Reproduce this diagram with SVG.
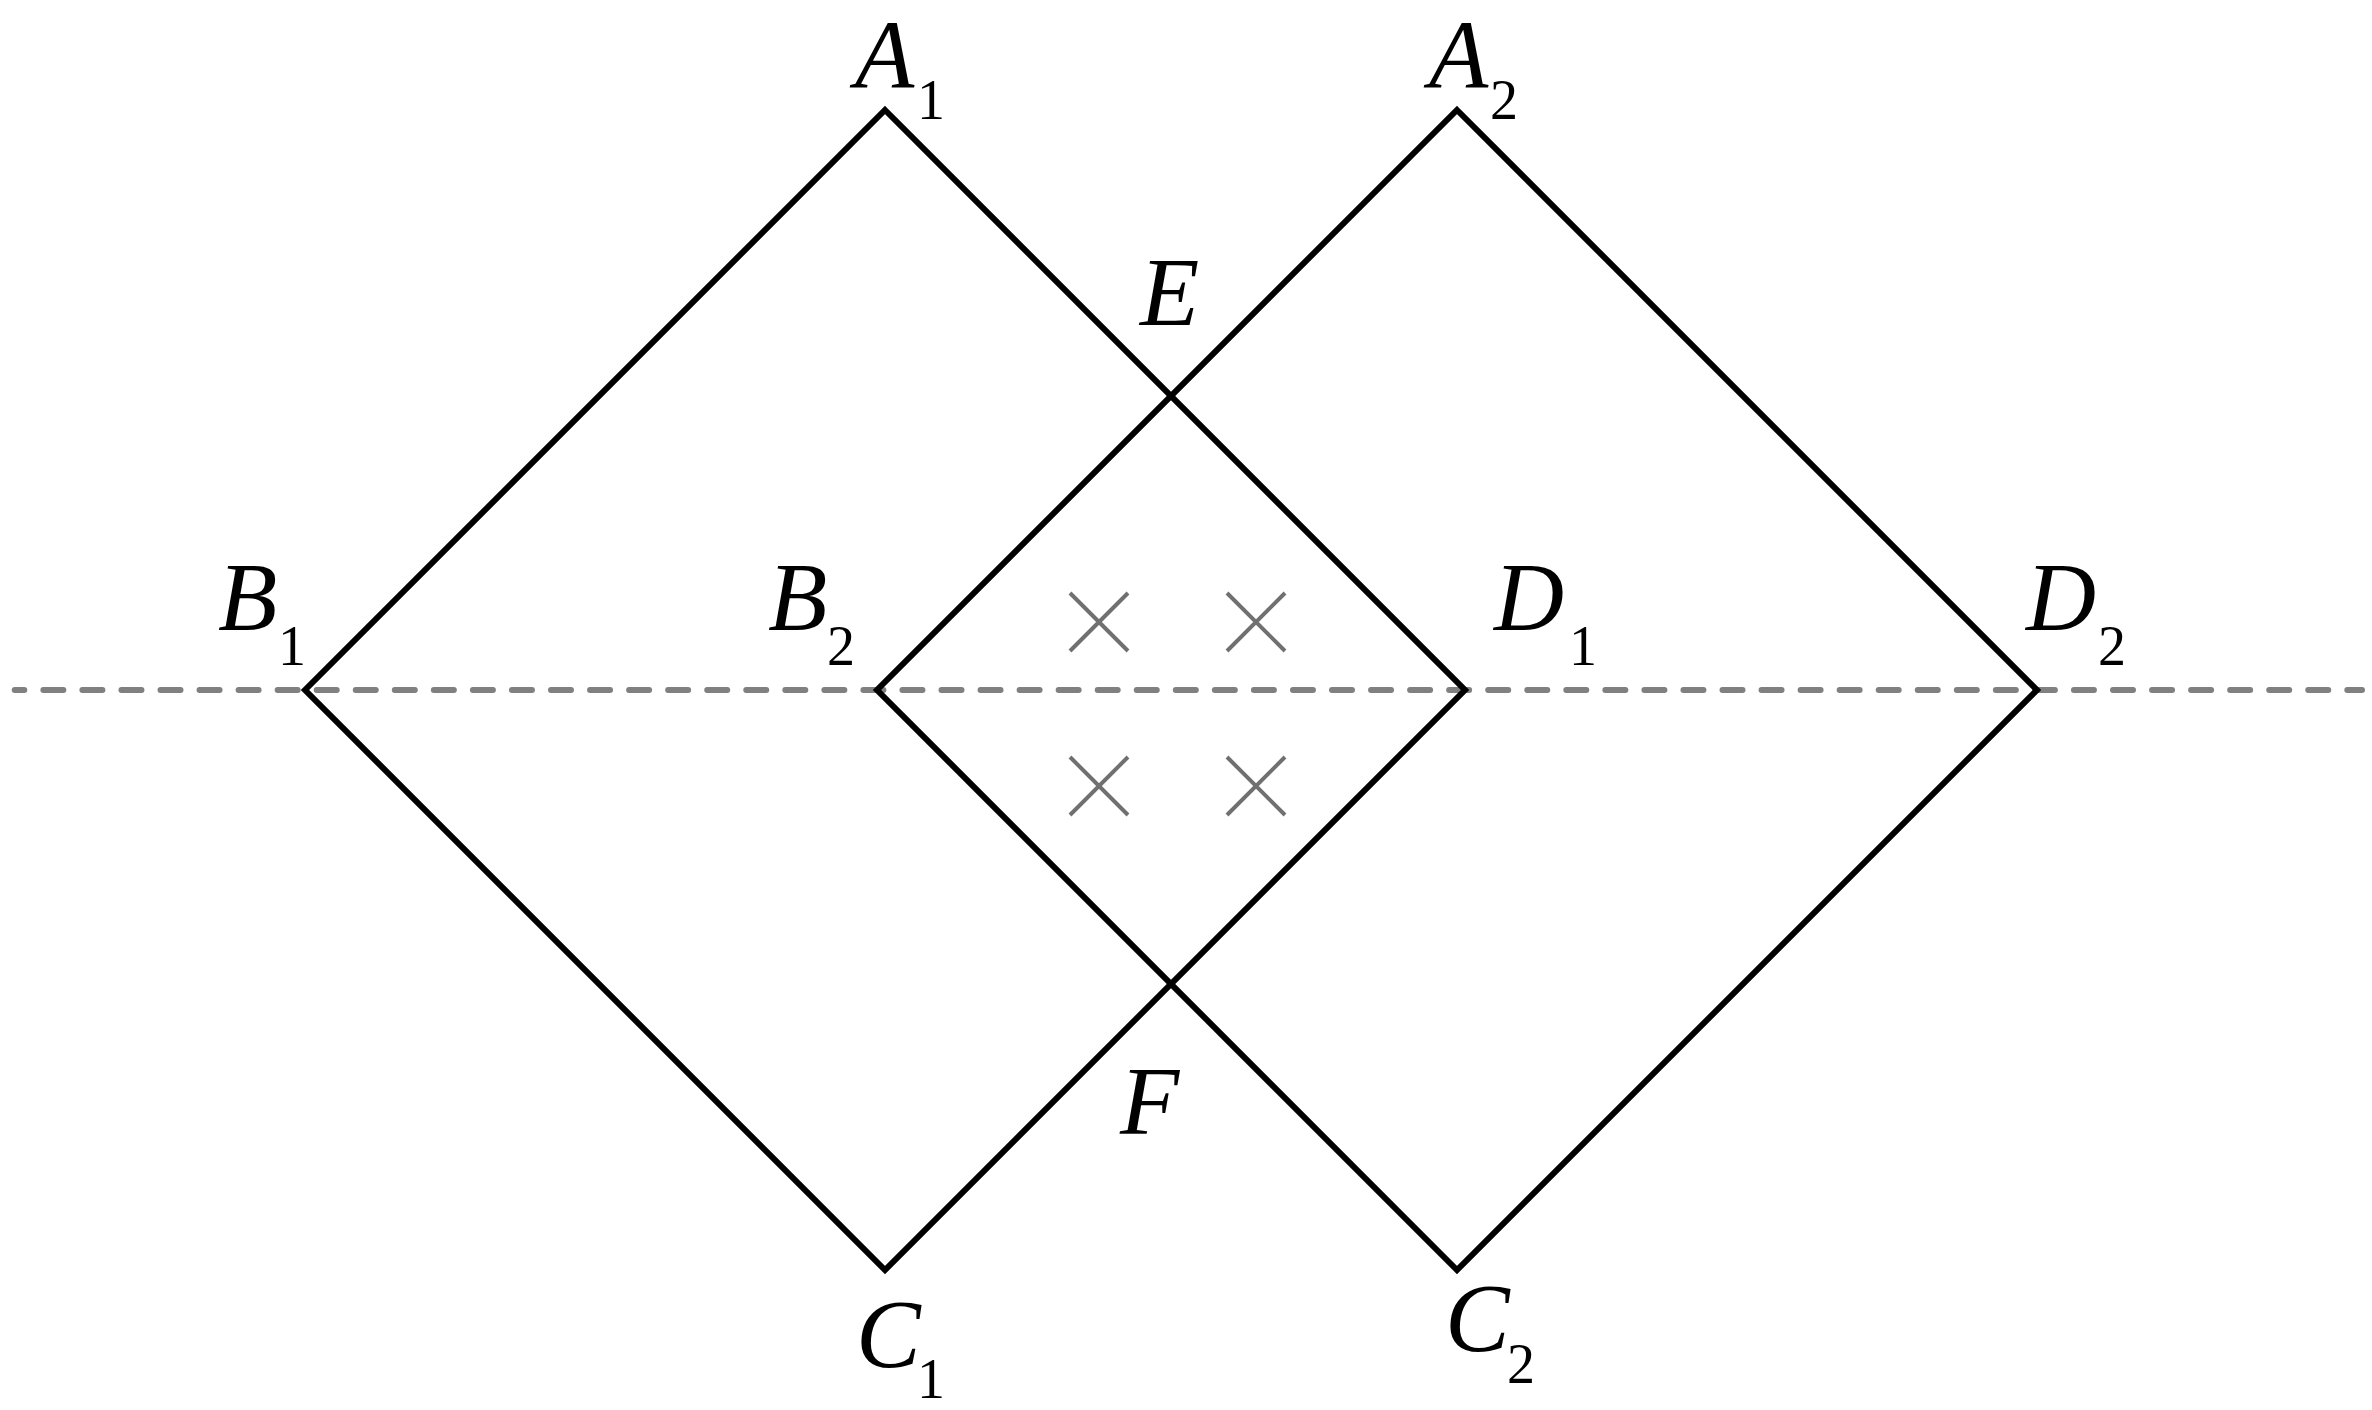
<svg xmlns="http://www.w3.org/2000/svg" width="2372" height="1410" viewBox="0 0 2372 1410">
<style>
.sq{fill:none;stroke:#000;stroke-width:6;stroke-linejoin:miter}
.axis{fill:none;stroke:#808080;stroke-width:6;stroke-linecap:round;stroke-dasharray:20 19.05;stroke-dashoffset:10.4}
.x{stroke:#707070;stroke-width:4}
text{font-family:'Liberation Serif',serif;fill:#000}
.lbl{font-size:97px;font-style:italic}
.sub{font-size:56px;font-style:normal}
</style>
<rect width="2372" height="1410" fill="#fff"/>
<g id="connectors">
<line class="axis" x1="14.7" y1="690" x2="2362" y2="690"/>
</g>
<g id="square1"><polygon class="sq" points="885,110 1465,690 885,1270 305,690"/></g>
<g id="square2"><polygon class="sq" points="1457,110 2037,690 1457,1270 877,690"/></g>
<g id="crosses">
<path class="x" d="M1070,593 L1128,651 M1128,593 L1070,651"/>
<path class="x" d="M1227,593 L1285,651 M1285,593 L1227,651"/>
<path class="x" d="M1070,757 L1128,815 M1128,757 L1070,815"/>
<path class="x" d="M1227,757 L1285,815 M1285,757 L1227,815"/>
</g>
<g id="label-A1"><text class="lbl" x="855" y="87">A</text><text class="sub" x="917" y="119">1</text></g>
<g id="label-A2"><text class="lbl" x="1429" y="87">A</text><text class="sub" x="1490" y="119">2</text></g>
<g id="label-E"><text class="lbl" x="1140" y="325">E</text></g>
<g id="label-B1"><text class="lbl" x="218" y="630">B</text><text class="sub" x="278" y="665">1</text></g>
<g id="label-B2"><text class="lbl" x="768" y="630">B</text><text class="sub" x="827" y="665">2</text></g>
<g id="label-D1"><text class="lbl" x="1494" y="630">D</text><text class="sub" x="1569" y="665">1</text></g>
<g id="label-D2"><text class="lbl" x="2026" y="630">D</text><text class="sub" x="2098" y="665">2</text></g>
<g id="label-F"><text class="lbl" x="1120" y="1134">F</text></g>
<g id="label-C1"><text class="lbl" x="856" y="1367">C</text><text class="sub" x="917" y="1398">1</text></g>
<g id="label-C2"><text class="lbl" x="1445" y="1351">C</text><text class="sub" x="1507" y="1383">2</text></g>
</svg>
